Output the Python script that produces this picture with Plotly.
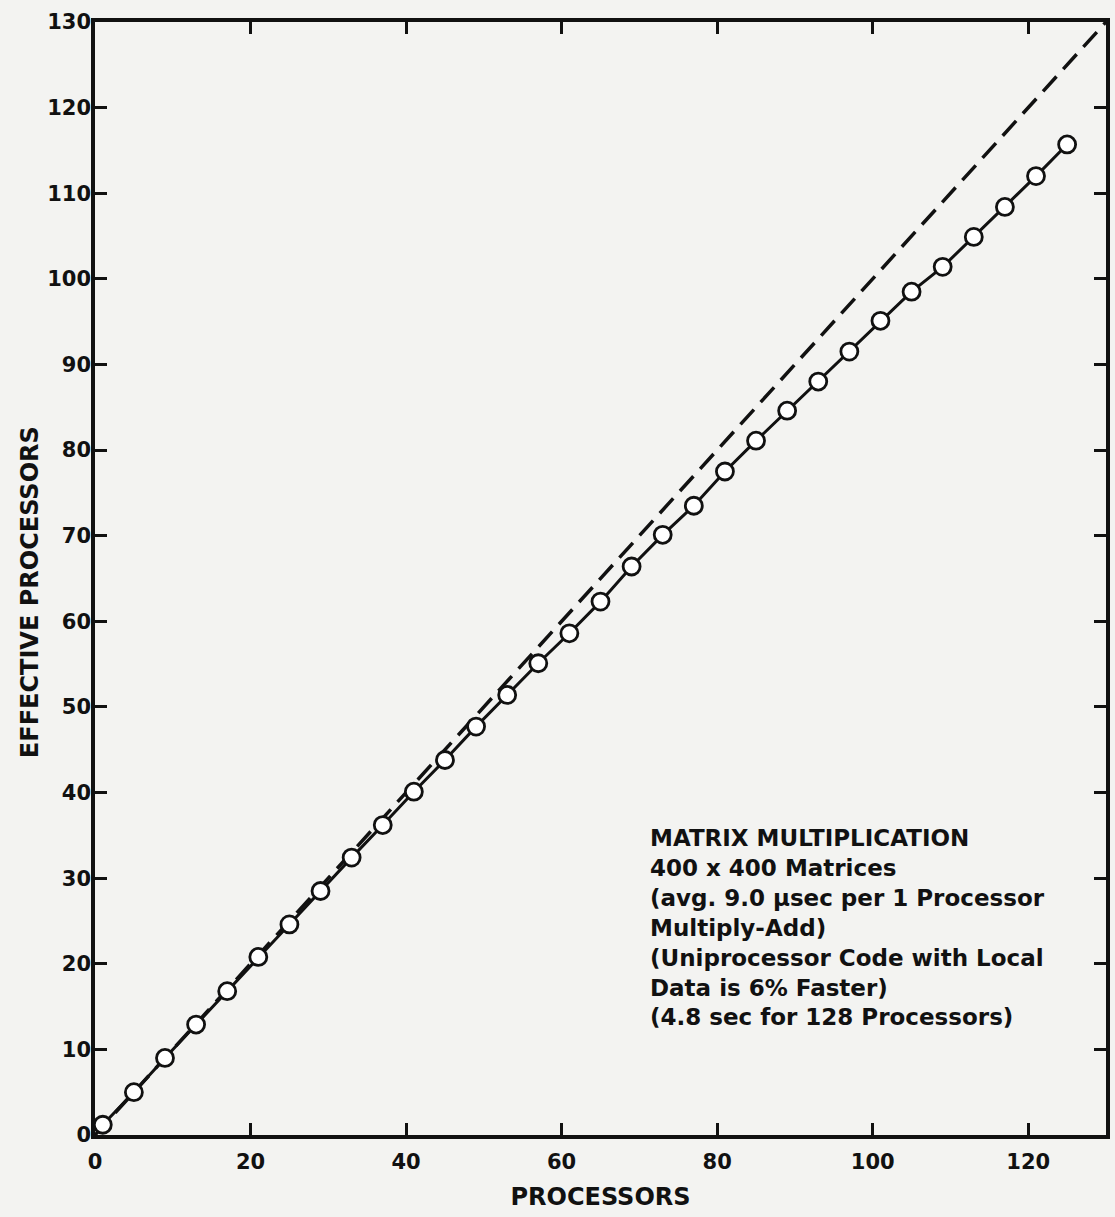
import plotly.graph_objects as go

processors = [1, 5, 9, 13, 17, 21, 25, 29, 33, 37, 41, 45, 49, 53, 57, 61,
              65, 69, 73, 77, 81, 85, 89, 93, 97, 101, 105, 109, 113, 117, 121, 125]
effective = [1.2, 5.0, 9.0, 12.9, 16.8, 20.8, 24.6, 28.5, 32.4, 36.2, 40.1, 43.8,
             47.7, 51.4, 55.1, 58.6, 62.3, 66.4, 70.1, 73.5, 77.5, 81.1, 84.6, 88.0,
             91.5, 95.1, 98.5, 101.4, 104.9, 108.4, 112.0, 115.7]
ideal_x = [0, 130]
ideal_y = [0, 130]
x_ticks = [0, 20, 40, 60, 80, 100, 120]
y_ticks = list(range(0, 131, 10))

note_lines = [
    "MATRIX MULTIPLICATION",
    "400 x 400 Matrices",
    "(avg. 9.0 \u03bcsec per 1 Processor",
    "Multiply-Add)",
    "(Uniprocessor Code with Local",
    "Data is 6% Faster)",
    "(4.8 sec for 128 Processors)",
]

paper = "#f3f3f1"
ink = "#111111"
font_family = "DejaVu Sans, Arial, sans-serif"

fig = go.Figure()
fig.add_trace(go.Scatter(
    x=ideal_x, y=ideal_y, mode="lines",
    line=dict(color=ink, width=3.5, dash="20px,10px"),
    showlegend=False, hoverinfo="skip"))
fig.add_trace(go.Scatter(
    x=processors, y=effective, mode="lines+markers",
    line=dict(color=ink, width=3),
    marker=dict(symbol="circle", size=17, color="white",
                line=dict(color=ink, width=2.8)),
    showlegend=False))

fig.add_annotation(
    x=0.547, y=0.280, xref="paper", yref="paper",
    xanchor="left", yanchor="top", align="left", showarrow=False,
    text="<br>".join(f"<b>{t}</b>" for t in note_lines),
    font=dict(family=font_family, size=23, color=ink))

# y-axis title placed as a rotated annotation for exact positioning
fig.add_annotation(
    x=-0.064, y=0.488, xref="paper", yref="paper",
    xanchor="center", yanchor="middle", showarrow=False, textangle=-90,
    text="<b>EFFECTIVE PROCESSORS</b>",
    font=dict(family=font_family, size=24, color=ink))

axis_common = dict(
    showgrid=False, zeroline=False, showline=True, linecolor=ink, linewidth=3.5,
    mirror="ticks", ticks="inside", ticklen=12, tickwidth=3, tickcolor=ink,
    tickfont=dict(family=font_family, size=21, color=ink),
)

fig.update_xaxes(range=[0, 130], tickvals=x_ticks, ticktext=[f"<b>{v}</b>" for v in x_ticks],
                 ticklabelstandoff=5,
                 title=dict(text="<b>PROCESSORS</b>", font=dict(family=font_family, size=24, color=ink),
                            standoff=16),
                 **axis_common)
fig.update_yaxes(range=[0, 130], tickvals=y_ticks, ticktext=[f"<b>{v}</b>" for v in y_ticks],
                 ticklabelstandoff=-4,
                 **axis_common)

fig.update_layout(
    width=1115, height=1217,
    margin=dict(l=95, r=5, t=22, b=82),
    paper_bgcolor=paper, plot_bgcolor=paper,
)

fig.write_html("out.html")
